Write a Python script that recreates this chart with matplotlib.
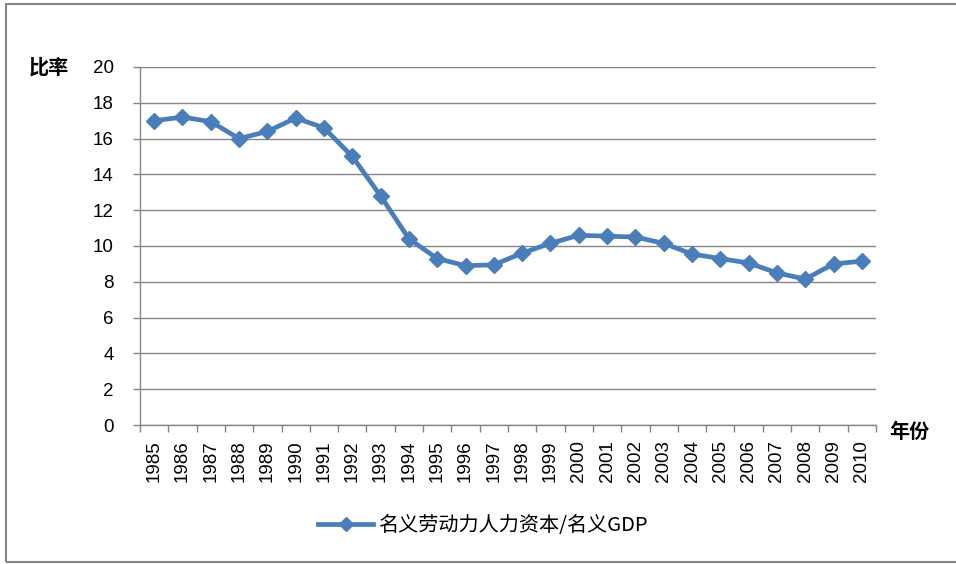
import matplotlib
matplotlib.use("Agg")
import matplotlib.pyplot as plt
from matplotlib.lines import Line2D
from matplotlib.patches import Rectangle

plt.rcParams['font.family'] = ['Noto Sans CJK SC', 'DejaVu Sans']

years = [str(y) for y in range(1985, 2011)]
ratio = [17.0, 17.2, 16.95, 16.0, 16.4, 17.15, 16.6, 15.0, 12.8, 10.4,
         9.3, 8.9, 8.95, 9.6, 10.15, 10.6, 10.55, 10.5, 10.15, 9.55,
         9.3, 9.05, 8.5, 8.15, 9.0, 9.15]
yticks = [0, 2, 4, 6, 8, 10, 12, 14, 16, 18, 20]
series_name = "名义劳动力人力资本/名义GDP"

blue = "#4a7ebb"
grey = "#868686"

fig = plt.figure(figsize=(9.56, 5.64), dpi=100)
ax = fig.add_axes([140 / 956, 1 - 425 / 564, 736 / 956, 358 / 564])

x = range(len(years))
ax.plot(x, ratio, color=blue, lw=3.4, marker='D', ms=8.5,
        mfc=blue, mec=blue, solid_joinstyle='round')

ax.set_xlim(-0.5, len(years) - 0.5)
ax.set_ylim(0, 20)
ax.set_yticks(yticks)
ax.set_yticklabels([str(v) for v in yticks], fontsize=13.5, family='Liberation Sans')
ax.set_xticks(list(x))
ax.set_xticklabels(years, rotation=90, fontsize=13.5, family='Liberation Sans')
ax.set_xticks([i - 0.5 for i in range(len(years) + 1)], minor=True)
ax.tick_params(axis='x', which='major', length=0, pad=11)
ax.tick_params(axis='x', which='minor', length=5, color=grey, width=1, direction='out')
ax.tick_params(axis='y', length=5, color=grey, width=1, direction='out', pad=14)
for lab in ax.get_yticklabels():
    lab.set_horizontalalignment('right')

ax.grid(axis='y', color=grey, lw=1)
ax.set_axisbelow(True)
for s in ['top', 'right']:
    ax.spines[s].set_visible(False)
for s in ['left', 'bottom']:
    ax.spines[s].set_color(grey)
    ax.spines[s].set_linewidth(1)

fig.text(49 / 956, 1 - 67 / 564, "比率", fontsize=14.5, fontweight='bold',
         ha='center', va='center')
fig.text(909 / 956, 1 - 431 / 564, "年份", fontsize=14.5, fontweight='bold',
         ha='center', va='center')

handle = Line2D([], [], color=blue, lw=3.4, marker='D', ms=7, mfc=blue, mec=blue)
fig.legend([handle], [series_name], loc='center', bbox_to_anchor=(483 / 956, 1 - 526 / 564),
           frameon=False, fontsize=14.5, handlelength=2.7, handletextpad=0.25)

fig.patches.append(Rectangle((6 / 956, 1 - 562 / 564), 1.2, 558 / 564,
                             transform=fig.transFigure, fill=False,
                             edgecolor=grey, lw=1.5))

fig.savefig("out.png", dpi=100)
